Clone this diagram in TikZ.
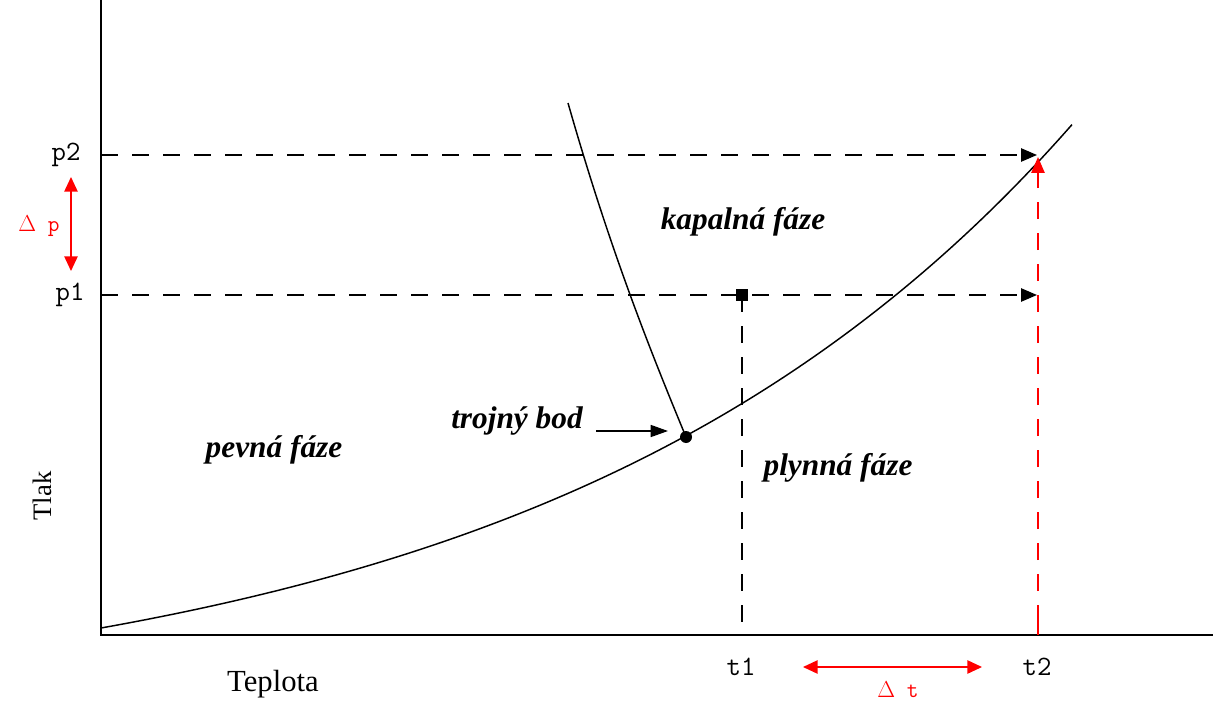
\documentclass[tikz,border=0pt]{standalone}
\usepackage{fontspec}
\setmainfont{Liberation Serif}
\usetikzlibrary{arrows.meta}
\begin{document}
\begin{tikzpicture}[x=0.75pt,y=-0.75pt,
  axisline/.style={line width=1.4pt},
  curveline/.style={line width=1.1pt},
  dline/.style={line width=1.2pt, dash pattern=on 12.75pt off 10.5pt},
  tip/.style={-{Triangle[length=12pt,width=10pt]}},
  dtip/.style={{Triangle[length=11pt,width=10pt]}-{Triangle[length=11pt,width=10pt]}},
  phase/.style={font=\fontsize{23.5}{28}\selectfont\bfseries\itshape, inner sep=0pt},
  mono/.style={font=\fontsize{21}{24}\selectfont\ttfamily, inner sep=0pt},
  redmono/.style={font=\fontsize{17}{20}\selectfont\ttfamily, text=red, inner sep=0pt},
  serif/.style={font=\fontsize{23}{28}\selectfont, inner sep=0pt},
  redline/.style={red, line width=1.2pt}
]
\useasboundingbox[fill=white] (0,0) rectangle (1213,713);

% axes
\coordinate (ytop) at (101,0);
\coordinate (O) at (101,635);
\coordinate (xend) at (1213,635);
\draw[axisline] (ytop) -- (O) -- (xend);

% coordinates
\coordinate (p2s) at (101,155);
\coordinate (p2e) at (1037,155);
\coordinate (p1s) at (101,295);
\coordinate (p1e) at (1037,295);
\coordinate (t1b) at (742,635);
\coordinate (t2b) at (1038,635);
\coordinate (t2tick) at (1038,622);
\coordinate (t2top) at (1038,157);
\coordinate (mtop) at (568,103);

% phase boundary curve
\draw[curveline] plot[domain=101:1072, samples=80, smooth] (\x, {628 - 93.7*(exp(0.0019*(\x-101))-1)});

% triple point and melting line
\node[circle, fill=black, minimum size=9pt, inner sep=0pt] (tp) at (686,437) {};
\draw[curveline] (mtop) .. controls (610,250) and (650,350) .. (tp.center);

% dashed pressure lines
\draw[dline, tip] (p2s) -- (p2e);
\draw[dline, tip] (p1s) -- (p1e);

% t1 square and dashed line
\node[fill=black, minimum size=9pt, inner sep=0pt] (sq) at (742,295) {};
\draw[dline] (sq.center) -- (t1b);

% red t2 line
\draw[redline] (t2b) -- (t2tick);
\draw[redline, dash pattern=on 12.75pt off 10.5pt, -{Triangle[length=12pt,width=10pt]}] (t2tick) -- (t2top);

% labels
\node[mono] (p2) at (66,155) {p2};
\node[mono] (p1) at (70,295) {p1};
\node[mono] (t1) at (741,667) {t1};
\node[mono] (t2) at (1037,667) {t2};

\node[redmono] (dp) at (39,226) {$\Delta$ p};
\coordinate (dpa) at (71,177);
\coordinate (dpb) at (71,271);
\draw[redline, dtip] (dpa) -- (dpb);

\node[redmono] (dt) at (898,690) {$\Delta$ t};
\coordinate (dta) at (803,667);
\coordinate (dtb) at (982,667);
\draw[redline, dtip] (dta) -- (dtb);

\node[serif] (teplota) at (273,684) {Teplota};
\node[serif, rotate=90, font=\fontsize{20}{24}\selectfont] (tlak) at (42,496) {Tlak};

\node[phase] (pevna) at (274,450) {pevná fáze};
\node[phase] (kapalna) at (743,222) {kapalná fáze};
\node[phase] (plynna) at (838,468) {plynná fáze};
\node[phase] (trojny) at (517,421) {trojný bod};

\coordinate (ta) at (596,431);
\coordinate (tb) at (668,431);
\draw[line width=1.2pt, -{Triangle[length=13pt,width=9pt]}] (ta) -- (tb);
\end{tikzpicture}
\end{document}
